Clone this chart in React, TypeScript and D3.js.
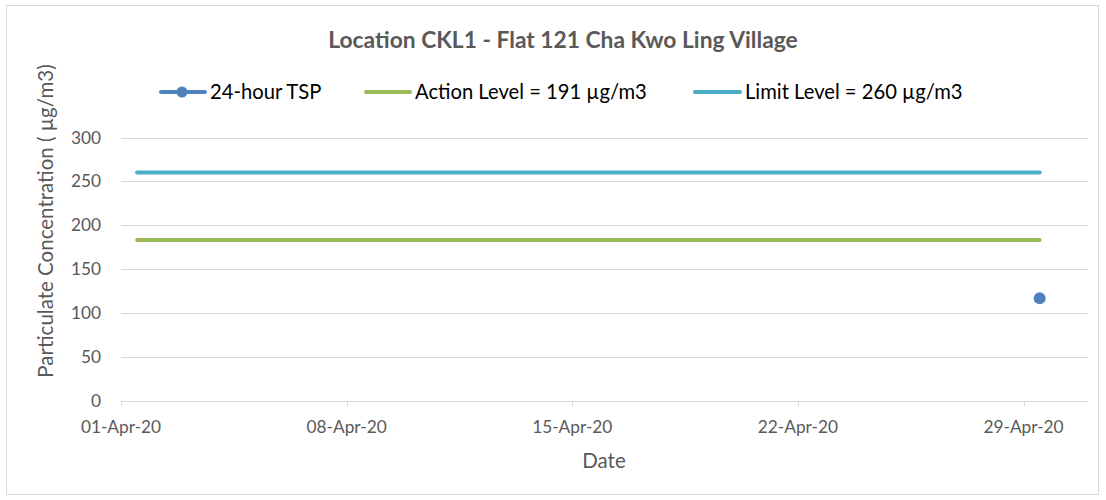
import React from "react";
import * as d3 from "d3";

const titleText = "Location CKL1 - Flat 121 Cha Kwo Ling Village";
const xTickLabels = ["01-Apr-20", "08-Apr-20", "15-Apr-20", "22-Apr-20", "29-Apr-20"];
const yTicks = [0, 50, 100, 150, 200, 250, 300];
const levelDates = ["2020-04-01T12:00", "2020-04-29T12:00"];
const actionValues = [183, 183];
const limitValues = [260, 260];
const tspDates = ["2020-04-29T12:00"];
const tspValues = [116.5];

const W = 1106, H = 500;
const FONT = "Lato, 'Open Sans', sans-serif";
const TXT = "#595959";

export default function App() {
  const parse = (s: string) => new Date(s);
  const x = d3.scaleTime().domain([new Date("2020-04-01T00:00"), new Date("2020-05-01T00:00")]).range([121, 1088]);
  const y = d3.scaleLinear().domain([0, 300]).range([400.5, 137.5]);
  const tickDates = [1, 8, 15, 22, 29].map((d) => new Date(2020, 3, d));
  const line = d3.line<[Date, number]>().x((d) => x(d[0])).y((d) => y(d[1]));
  const actionPts = levelDates.map((d, i) => [parse(d), actionValues[i]] as [Date, number]);
  const limitPts = levelDates.map((d, i) => [parse(d), limitValues[i]] as [Date, number]);

  return (
    <svg width={W} height={H} style={{ position: "absolute", left: 0, top: 0 }} fontFamily={FONT}>
      <rect x={0} y={0} width={W} height={H} fill="#fff" />
      <rect x={6.5} y={5.5} width={1092} height={489} fill="none" stroke="#d9d9d9" />
      <text x={563} y={48} textAnchor="middle" fontSize={22.8} fontWeight="bold" fill={TXT}>{titleText}</text>

      {/* legend */}
      <g>
        <line x1={161} x2={205} y1={92} y2={92} stroke="#4f81bd" strokeWidth={4} strokeLinecap="round" />
        <circle cx={182} cy={92} r={5.5} fill="#4f81bd" />
        <text x={210} y={99} fontSize={20.2} fill="#000">24-hour TSP</text>
        <line x1={366} x2={410} y1={92} y2={92} stroke="#9bbb59" strokeWidth={4} strokeLinecap="round" />
        <text x={415} y={99} fontSize={20.2} fill="#000">Action Level = 191 µg/m3</text>
        <line x1={695} x2={740} y1={92} y2={92} stroke="#4bacc6" strokeWidth={4} strokeLinecap="round" />
        <text x={745} y={99} fontSize={20.2} fill="#000">Limit Level = 260 µg/m3</text>
      </g>

      {/* grid */}
      {yTicks.map((t) => (
        <g key={t}>
          <line x1={121} x2={1088} y1={Math.round(y(t)) + 0.5} y2={Math.round(y(t)) + 0.5} stroke="#d9d9d9" strokeWidth={1} />
          <text x={101} y={y(t) + 6} textAnchor="end" fontSize={17.3} fill={TXT}>{t}</text>
        </g>
      ))}
      {tickDates.map((d, i) => (
        <g key={i}>
          <line x1={Math.round(x(d)) + 0.5} x2={Math.round(x(d)) + 0.5} y1={400.5} y2={406} stroke="#d9d9d9" />
          <text x={x(d)} y={433} textAnchor="middle" fontSize={17.3} fill={TXT}>{xTickLabels[i]}</text>
        </g>
      ))}

      <path d={line(limitPts) || ""} fill="none" stroke="#4bacc6" strokeWidth={4} strokeLinecap="round" />
      <path d={line(actionPts) || ""} fill="none" stroke="#9bbb59" strokeWidth={4} strokeLinecap="round" />
      {tspDates.map((d, i) => (
        <circle key={i} cx={x(parse(d))} cy={y(tspValues[i])} r={6} fill="#4f81bd" />
      ))}

      <text x={604} y={468} textAnchor="middle" fontSize={20.5} fill={TXT}>Date</text>
      <text transform={`translate(53,221) rotate(-90)`} textAnchor="middle" fontSize={20.5} fill={TXT}>Particulate Concentration ( µg/m3)</text>
    </svg>
  );
}
